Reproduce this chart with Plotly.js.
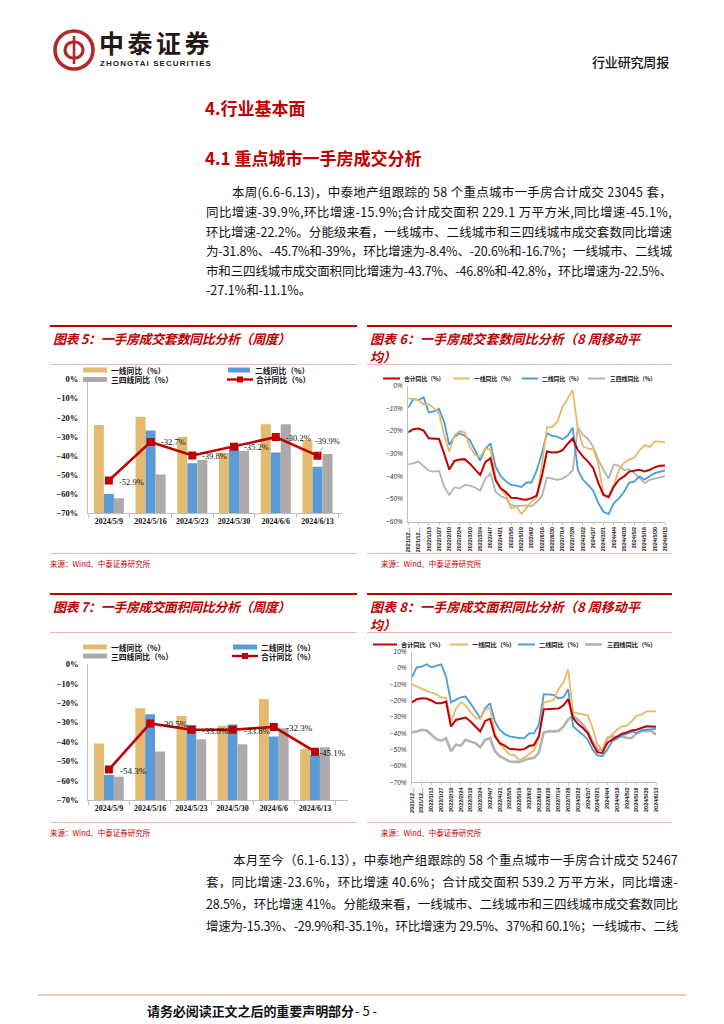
<!DOCTYPE html>
<html lang="zh-CN">
<head>
<meta charset="utf-8">
<title>行业研究周报</title>
<script src="https://cdn.plot.ly/plotly-3.0.1.min.js"></script>
<style>
html,body{margin:0;padding:0;background:#fff;}
#page{position:relative;width:724px;height:1024px;overflow:hidden;background:#fff;}
#plot{position:absolute;left:0;top:0;width:724px;height:1024px;}
.t{position:absolute;white-space:nowrap;line-height:1;transform:translateY(-50%);font-family:"Noto Sans CJK SC","Noto Sans",sans-serif;color:#111;}
.p{font-size:12.5px;}
.h{font-size:17px;font-weight:700;color:#C00000;}
.ct{font-size:13px;font-weight:700;font-style:italic;color:#C00000;}
.src{font-size:7.5px;color:#C00000;}
.rl{position:absolute;height:1.5px;background:#C00000;}
.pl{position:absolute;height:1px;background:#EDB7B7;}
</style>
</head>
<body>
<div id="page">
<div id="plot"></div>

<!-- header -->
<svg style="position:absolute;left:52px;top:28px" width="44" height="44" viewBox="0 0 44 44">
  <circle cx="22" cy="22" r="19" fill="none" stroke="#B3282D" stroke-width="3.6"/>
  <path d="M21 14 a7 7 0 1 0 0 16" fill="none" stroke="#B3282D" stroke-width="3.2"/>
  <path d="M23 14 a7 7 0 1 1 0 16" fill="none" stroke="#B3282D" stroke-width="3.2"/>
  <line x1="22" y1="8" x2="22" y2="36" stroke="#B3282D" stroke-width="2.6"/>
</svg>
<div class="t" style="left:99px;top:42px;font-size:25px;font-weight:700;color:#231815;" data-w="114">中泰证券</div>
<div class="t" style="left:100px;top:63.5px;font-size:8px;font-weight:700;color:#231815;font-family:'Liberation Sans',sans-serif;" data-w="112">ZHONGTAI SECURITIES</div>
<div class="t" style="left:592px;top:61px;font-size:13px;font-weight:500;color:#111;" data-w="77">行业研究周报</div>

<div class="t h" style="left:205px;top:107px;">4.行业基本面</div>
<div class="t h" style="left:205px;top:157px;">4.1 重点城市一手房成交分析</div>

<!-- paragraph 1 -->
<div class="t p" style="left:232px;top:192px;" data-w="440">本周(6.6-6.13)，中泰地产组跟踪的 58 个重点城市一手房合计成交 23045 套，</div>
<div class="t p" style="left:206px;top:212px;" data-w="466">同比增速-39.9%,环比增速-15.9%;合计成交面积 229.1 万平方米,同比增速-45.1%,</div>
<div class="t p" style="left:206px;top:232px;" data-w="466">环比增速-22.2%。分能级来看，一线城市、二线城市和三四线城市成交套数同比增速</div>
<div class="t p" style="left:206px;top:251px;" data-w="466">为-31.8%、-45.7%和-39%，环比增速为-8.4%、-20.6%和-16.7%；一线城市、二线城</div>
<div class="t p" style="left:206px;top:271px;" data-w="466">市和三四线城市成交面积同比增速为-43.7%、-46.8%和-42.8%，环比增速为-22.5%、</div>
<div class="t p" style="left:206px;top:290px;">-27.1%和-11.1%。</div>

<!-- chart boxes row 1 -->
<div class="rl" style="left:50px;top:325px;width:307px;"></div>
<div class="t ct" style="left:53px;top:338px;" data-w="237">图表 5：一手房成交套数同比分析（周度）</div>
<div class="pl" style="left:50px;top:364px;width:307px;"></div>
<div class="pl" style="left:50px;top:553px;width:307px;"></div>
<div class="t src" style="left:50px;top:564px;">来源：Wind、中泰证券研究所</div>

<div class="rl" style="left:367px;top:325px;width:305px;"></div>
<div class="t ct" style="left:370px;top:338px;" data-w="270">图表 6：一手房成交套数同比分析（8 周移动平</div>
<div class="t ct" style="left:370px;top:356px;">均）</div>
<div class="pl" style="left:367px;top:364px;width:305px;"></div>
<div class="pl" style="left:367px;top:553px;width:305px;"></div>
<div class="t src" style="left:381px;top:564px;">来源：Wind、中泰证券研究所</div>

<!-- chart boxes row 2 -->
<div class="rl" style="left:50px;top:593px;width:307px;"></div>
<div class="t ct" style="left:53px;top:606px;" data-w="237">图表 7：一手房成交面积同比分析（周度）</div>
<div class="pl" style="left:50px;top:632px;width:307px;"></div>
<div class="pl" style="left:50px;top:822px;width:307px;"></div>
<div class="t src" style="left:50px;top:833px;">来源：Wind、中泰证券研究所</div>

<div class="rl" style="left:367px;top:593px;width:305px;"></div>
<div class="t ct" style="left:370px;top:606px;" data-w="270">图表 8：一手房成交面积同比分析（8 周移动平</div>
<div class="t ct" style="left:370px;top:624px;">均）</div>
<div class="pl" style="left:367px;top:632px;width:305px;"></div>
<div class="pl" style="left:367px;top:822px;width:305px;"></div>
<div class="t src" style="left:381px;top:833px;">来源：Wind、中泰证券研究所</div>

<!-- paragraph 2 -->
<div class="t p" style="left:233px;top:860px;" data-w="445">本月至今（6.1-6.13），中泰地产组跟踪的 58 个重点城市一手房合计成交 52467</div>
<div class="t p" style="left:206px;top:882px;" data-w="472">套，同比增速-23.6%，环比增速 40.6%；合计成交面积 539.2 万平方米，同比增速-</div>
<div class="t p" style="left:206px;top:904px;" data-w="472">28.5%，环比增速 41%。分能级来看，一线城市、二线城市和三四线城市成交套数同比</div>
<div class="t p" style="left:206px;top:926px;" data-w="472">增速为-15.3%、-29.9%和-35.1%，环比增速为 29.5%、37%和 60.1%；一线城市、二线</div>

<!-- footer -->
<div style="position:absolute;left:38px;top:994px;width:648px;height:2px;background:#EBCDB8;"></div>
<div class="t" style="left:147px;top:1010px;font-size:13px;font-weight:700;color:#111;" data-w="207">请务必阅读正文之后的重要声明部分</div>
<div class="t" style="left:355px;top:1010px;font-size:13px;color:#111;">- 5 -</div>
</div>

<script>
// ---------------- data ----------------
const weekDates = ['2024/5/9','2024/5/16','2024/5/23','2024/5/30','2024/6/6','2024/6/13'];
const seriesNames = ['一线同比（%）','二线同比（%）','三四线同比（%）','合计同比（%）'];

// 图表5 成交套数同比（周度）
const tier1Count  = [-23.9,-19.5,-30.0,-38.5,-23.5,-31.8];
const tier2Count  = [-59.9,-26.8,-43.9,-35.5,-38.2,-45.7];
const tier34Count = [-62.2,-49.7,-42.2,-37.3,-23.5,-39.0];
const totalCount  = [-52.9,-32.7,-39.8,-35.2,-30.2,-39.9];

// 图表7 成交面积同比（周度）
const tier1Area  = [-40.8,-22.7,-26.7,-31.7,-17.9,-43.7];
const tier2Area  = [-57.1,-25.8,-31.3,-31.0,-37.3,-46.8];
const tier34Area = [-58.0,-45.0,-38.6,-41.3,-33.0,-42.8];
const totalArea  = [-54.3,-30.5,-33.8,-33.8,-32.3,-45.1];

// 8周移动平均 x 轴
const maWeeks = ['2021/12/16','2021/12/23','2021/12/30','2022/1/6','2022/1/13','2022/1/20','2022/1/27','2022/2/3','2022/2/10','2022/2/17','2022/2/24','2022/3/3','2022/3/10','2022/3/17','2022/3/24','2022/3/31','2022/4/7','2022/4/14','2022/4/21','2022/4/28','2022/5/5','2022/5/12','2022/5/19','2022/5/26','2022/6/2','2022/6/9','2022/6/16','2022/6/23','2022/6/30','2022/7/7','2022/7/14','2022/7/21','2022/7/28','2024/2/15','2024/2/22','2024/2/29','2024/3/7','2024/3/14','2024/3/21','2024/3/28','2024/4/4','2024/4/11','2024/4/18','2024/4/25','2024/5/2','2024/5/9','2024/5/16','2024/5/23','2024/5/30','2024/6/6','2024/6/13'];
const maTickVals = ['2021/12/16','2021/12/30','2022/1/13','2022/1/27','2022/2/10','2022/2/24','2022/3/10','2022/3/24','2022/4/7','2022/4/21','2022/5/5','2022/5/19','2022/6/2','2022/6/16','2022/6/30','2022/7/14','2022/7/28','2024/2/22','2024/3/7','2024/3/21','2024/4/4','2024/4/18','2024/5/2','2024/5/16','2024/5/30','2024/6/13'];
const maTickText = ['2021/12…','2021/12…','2022/1/13','2022/1/27','2022/2/10','2022/2/24','2022/3/10','2022/3/24','2022/4/7','2022/4/21','2022/5/5','2022/5/19','2022/6/2','2022/6/16','2022/6/30','2022/7/14','2022/7/28','2024/2/22','2024/3/7','2024/3/21','2024/4/4','2024/4/18','2024/5/2','2024/5/16','2024/5/30','2024/6/13'];

// 图表6 成交套数同比（8周移动平均）
const maTotalCount = [-20.6,-19.2,-18.9,-19.8,-23.2,-23.5,-23.5,-30.0,-37.0,-33.2,-32.6,-32.4,-34.4,-36.9,-39.4,-33.7,-32.0,-41.8,-45.3,-46.9,-49.4,-49.5,-50.1,-50.3,-49.6,-48.5,-40.0,-29.0,-29.5,-29.4,-28.5,-25.7,-23.3,-28.4,-31.3,-33.5,-36.4,-43.0,-48.2,-49.2,-44.5,-41.5,-40.0,-37.9,-37.4,-37.1,-37.8,-37.1,-35.9,-35.3,-35.2];
const maTier1Count = [-5.6,-6.0,-6.3,-8.2,-8.1,-10.0,-12.2,-21.8,-29.1,-22.0,-20.0,-20.6,-26.9,-30.6,-31.3,-27.9,-28.1,-40.1,-45.7,-48.2,-54.1,-53.2,-56.5,-54.0,-51.0,-49.5,-35.0,-18.3,-18.3,-16.0,-9.5,-5.8,-1.9,-19.0,-26.8,-27.8,-28.1,-34.4,-48.2,-48.7,-43.8,-37.2,-34.0,-32.6,-31.7,-28.5,-26.2,-27.0,-24.5,-24.8,-24.8];
const maTier2Count = [-9.7,-5.9,-6.3,-5.1,-11.8,-11.3,-10.3,-16.0,-26.2,-22.5,-21.0,-22.1,-24.0,-28.4,-33.1,-27.9,-25.4,-35.7,-39.9,-42.1,-43.8,-44.1,-44.7,-42.7,-42.7,-37.4,-29.8,-21.0,-22.1,-22.5,-23.6,-22.1,-18.5,-37.2,-41.5,-43.8,-46.3,-51.9,-55.6,-56.6,-51.9,-49.7,-46.8,-42.7,-42.3,-40.0,-41.5,-39.8,-38.6,-37.9,-37.4];
const maTier34Count = [-34.7,-34.3,-33.5,-35.7,-37.5,-37.9,-37.6,-44.6,-48.2,-44.9,-45.3,-43.8,-44.1,-44.9,-46.3,-40.9,-38.7,-46.8,-48.7,-49.7,-52.6,-53.1,-53.1,-52.8,-53.2,-51.3,-48.8,-40.5,-41.0,-41.5,-41.0,-39.6,-37.4,-18.3,-21.7,-23.5,-27.1,-32.7,-37.2,-40.9,-34.8,-35.3,-37.2,-36.9,-38.6,-40.9,-43.0,-41.5,-40.9,-40.3,-39.9];

// 图表8 成交面积同比（8周移动平均）
const maTotalArea = [-21.0,-19.1,-18.5,-18.7,-19.9,-21.6,-21.6,-20.5,-35.8,-31.8,-31.1,-30.3,-32.8,-35.8,-38.9,-32.4,-31.1,-41.9,-46.0,-47.6,-49.5,-49.7,-50.1,-49.7,-47.8,-47.2,-41.8,-25.3,-25.0,-25.0,-24.8,-23.0,-19.0,-30.6,-34.3,-36.7,-39.8,-46.5,-51.6,-52.0,-45.9,-43.9,-41.8,-40.2,-39.4,-38.2,-37.8,-36.7,-35.7,-35.8,-36.0];
const maTier1Area = [-10.0,-11.4,-12.8,-14.0,-15.0,-15.9,-18.1,-18.1,-32.8,-25.0,-21.0,-23.0,-27.0,-30.5,-31.2,-25.5,-24.5,-40.0,-46.5,-49.5,-53.0,-53.2,-56.5,-55.0,-53.0,-50.5,-43.0,-21.0,-20.5,-19.5,-13.0,-9.0,-1.0,-27.1,-27.8,-28.2,-29.0,-36.7,-47.0,-50.0,-43.9,-40.8,-37.8,-35.7,-35.3,-32.7,-29.2,-28.6,-26.5,-26.5,-26.5];
const maTier2Area = [-5.7,0.4,0.8,2.3,0.4,1.4,2.3,-5.3,-21.0,-19.5,-17.9,-17.5,-21.6,-26.0,-30.7,-24.6,-21.6,-32.8,-37.9,-40.5,-41.9,-42.5,-43.0,-43.0,-40.0,-40.0,-34.7,-16.0,-16.3,-16.5,-18.5,-18.0,-13.0,-35.7,-38.4,-40.8,-43.9,-50.0,-53.5,-54.0,-50.0,-44.9,-43.3,-41.2,-40.4,-38.8,-39.8,-38.2,-37.8,-37.5,-37.3];
const maTier34Area = [-39.3,-38.9,-37.9,-38.3,-40.9,-43.6,-44.6,-43.0,-51.0,-47.0,-47.5,-44.0,-45.0,-46.0,-48.5,-44.0,-43.0,-51.0,-54.0,-55.5,-57.3,-57.5,-57.5,-56.5,-55.5,-55.0,-52.0,-39.5,-38.8,-38.8,-38.5,-36.0,-31.5,-29.2,-31.6,-34.7,-38.8,-44.9,-50.0,-50.0,-42.9,-41.8,-42.4,-41.8,-42.9,-42.9,-40.2,-38.8,-38.4,-38.5,-40.8];

// ---------------- styles ----------------
const W = 724, H = 1024;
const X = x => x / W, Y = y => 1 - y / H;
const RED = '#C00000', GOLD = '#E2BA70', BLUE = '#5B9BD5', GRAY = '#AEAAAA';
const LGOLD = '#E9B864', LBLUE = '#4A9AE0', LGRAY = '#B3B3B3';
const CJK = '"Noto Sans CJK SC", sans-serif';
const SERIF = '"Liberation Serif", serif';
const BASE = -70;

const traces = [];
const shapes = [];
const annotations = [];

function addBars(x, vals, color, name, xa, ya) {
  traces.push({type:'bar', x:x, y:vals.map(v => v - BASE), base:BASE, name:name,
    marker:{color:color, line:{width:0}}, xaxis:xa, yaxis:ya, hoverinfo:'skip'});
}
function addTotal(x, vals, name, xa, ya) {
  traces.push({type:'scatter', mode:'lines+markers', x:x, y:vals, name:name,
    line:{color:RED, width:2.6}, marker:{symbol:'square', size:8, color:RED},
    xaxis:xa, yaxis:ya, hoverinfo:'skip'});
}
function addLabels(x, vals, xa, ya, size, shifts) {
  vals.forEach((v, i) => {
    const s = shifts[i];
    const a = {xref:xa, yref:ya, x:x[i], y:v, text:v.toFixed(1) + '%', showarrow:false,
      xanchor:'left', yanchor:'middle', xshift:s[0], yshift:s[1],
      font:{family:SERIF, size:size, color:'#111'}};
    if (s[2]) {
      Object.assign(a, {showarrow:true, arrowhead:0, arrowwidth:0.7, arrowcolor:'#8a8a8a',
        ax:s[0], ay:s[1], xshift:0, yshift:0, xanchor:'center', standoff:2});
    }
    annotations.push(a);
  });
}
function addMaLine(x, vals, color, width, name, xa, ya) {
  traces.push({type:'scatter', mode:'lines', x:x, y:vals, name:name,
    line:{color:color, width:width}, xaxis:xa, yaxis:ya, hoverinfo:'skip'});
}
function legRect(x0, x1, y, h, color) {
  shapes.push({type:'rect', xref:'paper', yref:'paper', x0:X(x0), x1:X(x1),
    y0:Y(y + h / 2), y1:Y(y - h / 2), fillcolor:color, line:{width:0}});
}
function legLine(x0, x1, y, color, w) {
  shapes.push({type:'line', xref:'paper', yref:'paper', x0:X(x0), x1:X(x1),
    y0:Y(y), y1:Y(y), line:{color:color, width:w}});
}
function legMarker(cx, y, s) {
  shapes.push({type:'rect', xref:'paper', yref:'paper', x0:X(cx - s / 2), x1:X(cx + s / 2),
    y0:Y(y + s / 2), y1:Y(y - s / 2), fillcolor:RED, line:{width:0}});
}
function legText(x, y, txt, size) {
  annotations.push({xref:'paper', yref:'paper', x:X(x), y:Y(y), xanchor:'left', yanchor:'middle',
    text:txt, showarrow:false, borderpad:0, font:{family:CJK, size:size, color:'#111', weight:600}});
}

// 图表5
addBars(weekDates, tier1Count, GOLD, seriesNames[0], 'x', 'y');
addBars(weekDates, tier2Count, BLUE, seriesNames[1], 'x', 'y');
addBars(weekDates, tier34Count, GRAY, seriesNames[2], 'x', 'y');
addTotal(weekDates, totalCount, seriesNames[3], 'x', 'y');
addLabels(weekDates, totalCount, 'x', 'y', 8.5, [[8,-1],[8,0],[8,-1],[8,0],[8,-1],[10,-15,true]]);
legRect(83, 107, 370, 5, GOLD); legText(110, 370, seriesNames[0], 7.8);
legRect(228, 250, 370, 5, BLUE); legText(254, 370, seriesNames[1], 7.8);
legRect(83, 107, 379.5, 5, GRAY); legText(110, 379.5, seriesNames[2], 7.8);
legLine(227, 253, 379.5, RED, 2.4); legMarker(240, 379.5, 6); legText(255, 379.5, seriesNames[3], 7.8);

// 图表7
addBars(weekDates, tier1Area, GOLD, seriesNames[0], 'x3', 'y3');
addBars(weekDates, tier2Area, BLUE, seriesNames[1], 'x3', 'y3');
addBars(weekDates, tier34Area, GRAY, seriesNames[2], 'x3', 'y3');
addTotal(weekDates, totalArea, seriesNames[3], 'x3', 'y3');
addLabels(weekDates, totalArea, 'x3', 'y3', 9, [[9,-1],[9,-1],[9,-1],[9,-1],[10,-1],[2,-1]]);
legRect(83, 107, 647, 5, GOLD); legText(110, 647, seriesNames[0], 7.8);
legRect(233, 257, 647, 5, BLUE); legText(260, 647, seriesNames[1], 7.8);
legRect(83, 107, 656, 5, GRAY); legText(110, 656, seriesNames[2], 7.8);
legLine(232, 258, 656, RED, 2.4); legMarker(245, 656, 6); legText(260, 656, seriesNames[3], 7.8);

// 图表6
addMaLine(maWeeks, maTier34Count, LGRAY, 1.8, seriesNames[2], 'x2', 'y2');
addMaLine(maWeeks, maTier2Count, LBLUE, 1.8, seriesNames[1], 'x2', 'y2');
addMaLine(maWeeks, maTier1Count, LGOLD, 1.8, seriesNames[0], 'x2', 'y2');
addMaLine(maWeeks, maTotalCount, RED, 2.0, seriesNames[3], 'x2', 'y2');
legLine(383, 400, 378.5, RED, 2); legText(403, 378.5, seriesNames[3], 5.8);
legLine(453, 470, 378.5, LGOLD, 2); legText(473, 378.5, seriesNames[0], 5.8);
legLine(522, 538, 378.5, LBLUE, 2); legText(541, 378.5, seriesNames[1], 5.8);
legLine(588, 605, 378.5, LGRAY, 2); legText(609, 378.5, seriesNames[2], 5.8);

// 图表8
addMaLine(maWeeks, maTier34Area, LGRAY, 2.6, seriesNames[2], 'x4', 'y4');
addMaLine(maWeeks, maTier2Area, LBLUE, 1.8, seriesNames[1], 'x4', 'y4');
addMaLine(maWeeks, maTier1Area, LGOLD, 1.8, seriesNames[0], 'x4', 'y4');
addMaLine(maWeeks, maTotalArea, RED, 2.0, seriesNames[3], 'x4', 'y4');
legLine(373, 397, 644.5, RED, 2); legText(400, 644.5, seriesNames[3], 6.2);
legLine(450, 468, 644.5, LGOLD, 2); legText(471, 644.5, seriesNames[0], 6.2);
legLine(518, 535, 644.5, LBLUE, 2); legText(538, 644.5, seriesNames[1], 6.2);
legLine(585, 602, 644.5, LGRAY, 2.6); legText(606, 644.5, seriesNames[2], 6.2);

const barTickFont = {family:SERIF, size:8, color:'#111', weight:'bold'};
const barYFont = {family:SERIF, size:8.5, color:'#111', weight:'bold'};
function barX(x0, x1, anchor) {
  return {domain:[X(x0), X(x1)], anchor:anchor, type:'category', showline:true, linecolor:'#BFBFBF',
    linewidth:1, ticks:'outside', tickson:'boundaries', ticklen:4, tickcolor:'#BFBFBF',
    tickangle:0, tickfont:barTickFont, showgrid:false, fixedrange:true};
}
function barY(yb, yt, anchor) {
  return {domain:[Y(yb), Y(yt)], anchor:anchor, range:[-70, 0], dtick:10, ticksuffix:'%',
    showgrid:false, zeroline:false, showline:true, linecolor:'#BFBFBF', linewidth:1,
    ticks:'', tickfont:barYFont, ticklabelstandoff:7, fixedrange:true};
}
const maTickFont = {family:'"Liberation Sans", sans-serif', size:5.5, color:'#222', weight:'bold'};
const maYFont = {family:'"Liberation Sans", sans-serif', size:6.5, color:'#333', style:'italic'};
function maX(x0, x1, anchor) {
  return {domain:[X(x0), X(x1)], anchor:anchor, type:'category', categoryorder:'array',
    categoryarray:maWeeks, tickmode:'array', tickvals:maTickVals, ticktext:maTickText,
    tickangle:-90, tickfont:maTickFont, showline:true, linecolor:'#BFBFBF', linewidth:1,
    ticks:'outside', ticklen:2, tickcolor:'#BFBFBF', showgrid:false, fixedrange:true};
}
function maY(yb, yt, anchor, r) {
  return {domain:[Y(yb), Y(yt)], anchor:anchor, range:r, dtick:10, ticksuffix:'%',
    showgrid:false, zeroline:false, showline:true, linecolor:'#BFBFBF', linewidth:1,
    ticks:'', tickfont:maYFont, ticklabelstandoff:3, fixedrange:true};
}

const layout = {
  width:W, height:H, margin:{l:0, r:0, t:0, b:0}, autosize:false,
  paper_bgcolor:'rgba(0,0,0,0)', plot_bgcolor:'rgba(0,0,0,0)',
  showlegend:false, barmode:'group', bargap:0.28, bargroupgap:0,
  xaxis:barX(88, 342, 'y'), yaxis:barY(513.3, 379.3, 'x'),
  xaxis2:maX(408.2, 665.2, 'y2'), yaxis2:maY(521.7, 385.7, 'x2', [-60, 0]),
  xaxis3:barX(88.3, 348, 'y3'), yaxis3:barY(800, 664.3, 'x3'),
  xaxis4:maX(411.9, 656.1, 'y4'), yaxis4:maY(782.3, 651.7, 'x4', [-70, 10]),
  shapes:shapes, annotations:annotations
};

Plotly.newPlot('plot', traces, layout, {staticPlot:true, displayModeBar:false});

// fit text lines to their measured widths
function fit() {
  document.querySelectorAll('[data-w]').forEach(el => {
    const w = +el.dataset.w;
    el.style.letterSpacing = '0px';
    const nat = el.getBoundingClientRect().width;
    const n = Array.from(el.textContent).length;
    el.style.letterSpacing = ((w - nat) / n) + 'px';
  });
}
fit();
if (document.fonts && document.fonts.ready) document.fonts.ready.then(fit);
</script>
</body>
</html>
